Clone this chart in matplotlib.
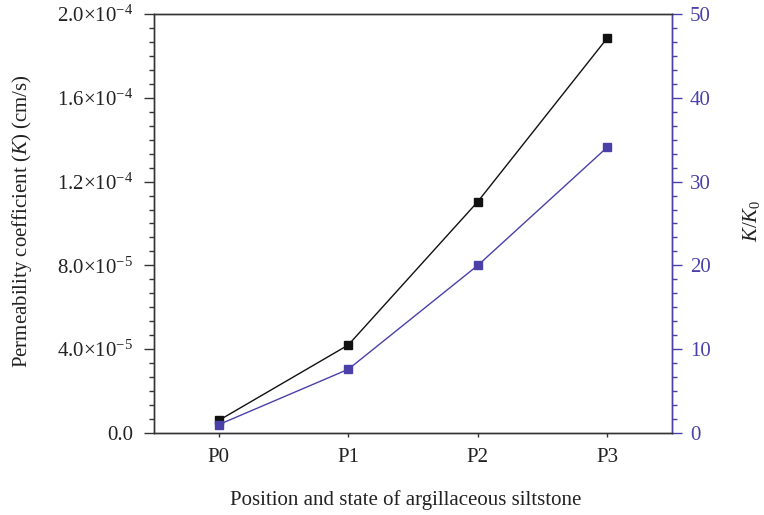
import matplotlib
matplotlib.use("Agg")
import matplotlib.pyplot as plt
from matplotlib.ticker import FuncFormatter, AutoMinorLocator

plt.rcParams['font.family'] = ['Liberation Serif', 'DejaVu Serif']
plt.rcParams['mathtext.fontset'] = 'custom'
plt.rcParams['mathtext.rm'] = 'Liberation Serif'
plt.rcParams['mathtext.it'] = 'Liberation Serif:italic'

categories = ["P0", "P1", "P2", "P3"]
k_values = [6.0e-6, 4.2e-5, 1.104e-4, 1.885e-4]
k_ratio = [1.0, 7.6, 20.0, 34.1]

left_ticks = [0.0, 4.0e-5, 8.0e-5, 1.2e-4, 1.6e-4, 2.0e-4]
right_ticks = [0, 10, 20, 30, 40, 50]

black = '#111111'
blue = '#4a40a8'
spine_c = '#333333'
text_c = '#222222'
FS = 15

fig = plt.figure(figsize=(7.64, 5.15), dpi=100)
ax = fig.add_axes([154/764, 1-433/515, (672-154)/764, (433-14)/515])
ax2 = ax.twinx()

x = list(range(len(categories)))
ax.plot(x, k_values, color=black, lw=1.0, marker='s', ms=6, mfc=black, mec=black, zorder=3)
ax2.plot(x, k_ratio, color=blue, lw=1.0, marker='s', ms=6, mfc=blue, mec=blue, zorder=3)

ax.set_xlim(-0.5, 3.5)
ax.set_ylim(0, 2.0e-4)
ax2.set_ylim(0, 50)
ax.set_xticks(x)
ax.set_xticklabels(categories)
ax.set_yticks(left_ticks)
ax2.set_yticks(right_ticks)

def fmt(v, pos):
    if v == 0:
        return "0.0"
    exp = int(f"{v:e}".split('e')[1])
    mant = v / 10**exp
    return r"$%.1f{\times}10^{%d}$" % (mant, exp)

ax.yaxis.set_major_formatter(FuncFormatter(fmt))
ax.yaxis.set_minor_locator(AutoMinorLocator(6))
ax2.yaxis.set_minor_locator(AutoMinorLocator(6))

for a in (ax, ax2):
    for s in a.spines.values():
        s.set_color(spine_c)
        s.set_linewidth(1.0)
ax2.spines['right'].set_color(blue)

ax.tick_params(axis='y', which='major', direction='out', length=7, width=1.0, color=spine_c, labelsize=FS, labelcolor=text_c, pad=8)
ax.tick_params(axis='y', which='minor', direction='out', length=3.5, width=1.0, color=spine_c)
ax.tick_params(axis='x', which='major', direction='out', length=3, width=1.0, color=spine_c, labelsize=FS, labelcolor=text_c, pad=8)
ax2.tick_params(axis='y', which='major', direction='out', length=7, width=1.0, color=blue, labelsize=FS, labelcolor=blue, pad=6)
ax2.tick_params(axis='y', which='minor', direction='out', length=3.5, width=1.0, color=blue)

fig.text(22/764, 1-221/515, r"Permeability coefficient ($K$) (cm/s)", fontsize=FS, color=text_c,
         rotation=90, ha='center', va='center')
fig.text(406/764, 1-500/515, "Position and state of argillaceous siltstone", fontsize=FS, color=text_c,
         ha='center', va='center')
fig.text(752/764, 1-221/515, r"$K/K_0$", fontsize=FS, color=text_c, rotation=90, ha='center', va='center')

fig.savefig("out.png", dpi=100)
